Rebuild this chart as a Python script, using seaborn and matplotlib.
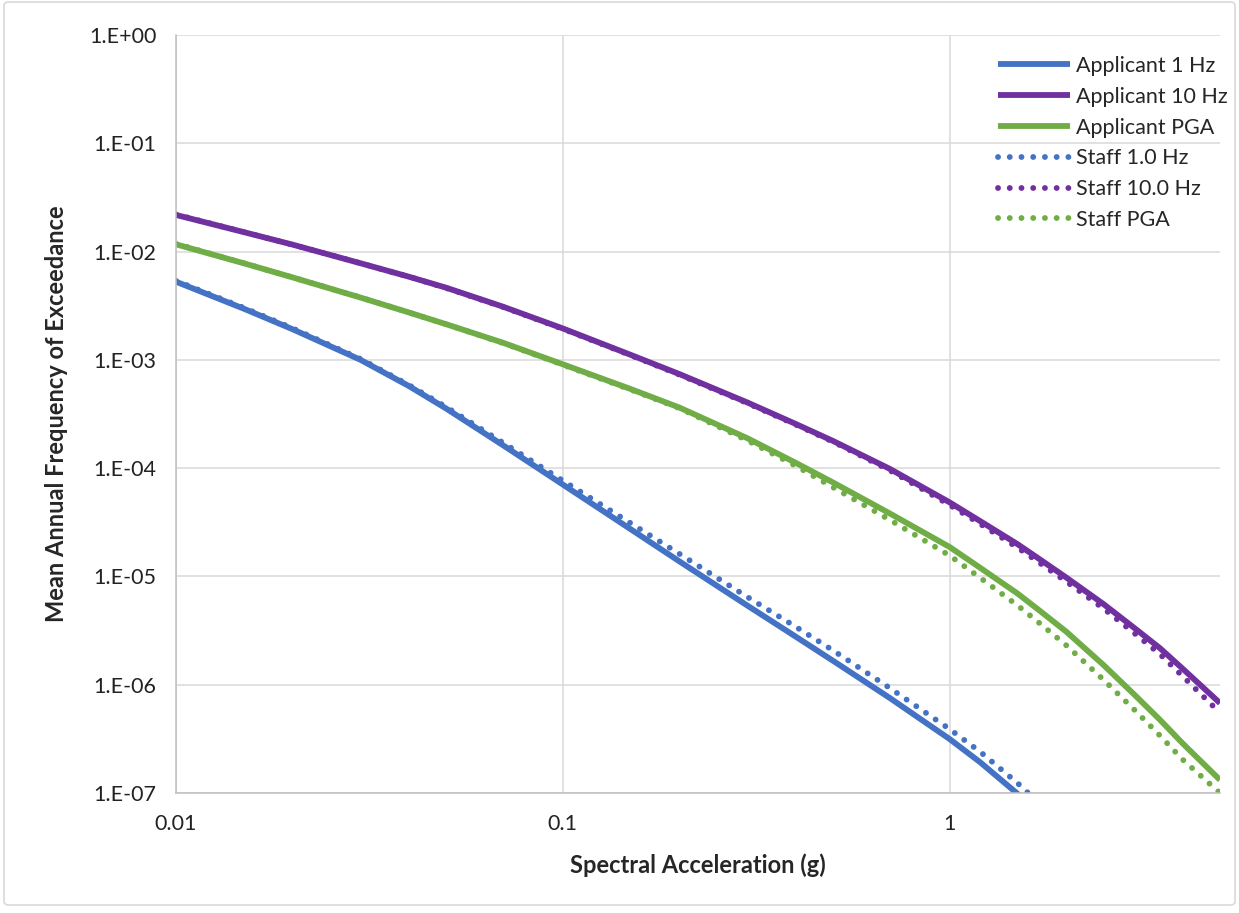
"""Hazard curves: applicant vs staff, log-log."""

import numpy as np
import pandas as pd
import matplotlib
matplotlib.use("Agg")
import matplotlib.pyplot as plt
import matplotlib.ticker as mticker
from matplotlib.patches import FancyBboxPatch
import seaborn as sns

# spectral acceleration (g) where the curves were read
sa = [0.01, 0.015, 0.02, 0.03, 0.04, 0.05, 0.07, 0.1, 0.15, 0.2, 0.3, 0.4,
      0.5, 0.7, 1.0, 1.2, 1.5, 1.7, 2.0, 2.5, 3.0, 3.5, 4.0, 5.0]

app_1hz = [5.27e-3, 2.96e-3, 1.92e-3, 1.00e-3, 5.73e-4, 3.54e-4, 1.63e-4, 7.06e-5,
           2.72e-5, 1.38e-5, 5.38e-6, 2.78e-6, 1.66e-6, 7.55e-7, 3.15e-7, 1.92e-7,
           9.8e-8, 6.6e-8, None, None, None, None, None, None]
app_10hz = [2.18e-2, 1.51e-2, 1.16e-2, 7.8e-3, 5.86e-3, 4.63e-3, 3.10e-3, 1.95e-3,
            1.11e-3, 7.4e-4, 4.04e-4, 2.56e-4, 1.78e-4, 9.86e-5, 4.83e-5, 3.24e-5,
            1.98e-5, 1.46e-5, 9.8e-6, 5.55e-6, 3.35e-6, 2.17e-6, 1.41e-6, 6.76e-7]
app_pga = [1.167e-2, 7.78e-3, 5.78e-3, 3.76e-3, 2.74e-3, 2.13e-3, 1.44e-3, 9.1e-4,
           5.37e-4, 3.63e-4, 1.89e-4, 1.12e-4, 7.36e-5, 3.82e-5, 1.87e-5, 1.20e-5,
           6.93e-6, 4.9e-6, 3.10e-6, 1.52e-6, 8.13e-7, 4.73e-7, 2.88e-7, 1.32e-7]

staff_1hz = [5.37e-3, 3.02e-3, 1.96e-3, 1.02e-3, 5.86e-4, 3.66e-4, 1.72e-4, 7.67e-5,
             3.09e-5, 1.62e-5, 6.46e-6, 3.43e-6, 2.07e-6, 9.33e-7, 3.89e-7, 2.40e-7,
             1.23e-7, 8.1e-8, None, None, None, None, None, None]
staff_10hz = [2.2e-2, 1.51e-2, 1.16e-2, 7.8e-3, 5.86e-3, 4.6e-3, 3.08e-3, 1.93e-3,
              1.1e-3, 7.3e-4, 3.98e-4, 2.52e-4, 1.75e-4, 9.55e-5, 4.57e-5, 3.05e-5,
              1.84e-5, 1.35e-5, 9.0e-6, 5.05e-6, 3.0e-6, 1.91e-6, 1.2e-6, 5.5e-7]
staff_pga = [1.18e-2, 7.8e-3, 5.78e-3, 3.77e-3, 2.74e-3, 2.13e-3, 1.43e-3, 9.0e-4,
             5.3e-4, 3.58e-4, 1.80e-4, 1.05e-4, 6.64e-5, 3.33e-5, 1.56e-5, 9.7e-6,
             5.38e-6, 3.75e-6, 2.32e-6, 1.11e-6, 5.89e-7, 3.38e-7, 2.04e-7, 1.0e-7]

series = [
    ("Applicant 1 Hz", app_1hz, "#4472C4", "-"),
    ("Applicant 10 Hz", app_10hz, "#7030A0", "-"),
    ("Applicant PGA", app_pga, "#70AD47", "-"),
    ("Staff 1.0 Hz", staff_1hz, "#4472C4", (0, (0.01, 2.0))),
    ("Staff 10.0 Hz", staff_10hz, "#7030A0", (0, (0.01, 2.0))),
    ("Staff PGA", staff_pga, "#70AD47", (0, (0.01, 2.0))),
]

sns.set_style("white")
plt.rcParams["font.family"] = ["Lato", "DejaVu Sans"]

fig = plt.figure(figsize=(12.39, 9.13), dpi=100)
ax = fig.add_axes([176 / 1239, 1 - 793 / 913, (1220 - 176) / 1239, (793 - 35) / 913])

for name, vals, color, ls in series:
    df = pd.DataFrame({"sa": sa, "afe": vals}).dropna()
    sns.lineplot(data=df, x="sa", y="afe", ax=ax, color=color, label=name,
                 linewidth=4.2, linestyle=ls, dash_capstyle="round",
                 solid_capstyle="butt", solid_joinstyle="round")

ax.set(xscale="log", yscale="log")
ax.set_xlim(0.01, 5)
ax.set_ylim(1e-7, 1)

ax.yaxis.set_major_locator(mticker.LogLocator(base=10, numticks=12))
ax.yaxis.set_minor_locator(mticker.LogLocator(base=10, subs=np.arange(2, 10), numticks=12))
ax.xaxis.set_major_locator(mticker.LogLocator(base=10, numticks=12))
ax.xaxis.set_minor_locator(mticker.LogLocator(base=10, subs=np.arange(2, 10), numticks=12))
ax.yaxis.set_major_formatter(mticker.FuncFormatter(lambda v, p: f"{v:.0E}".replace("E", ".E")))
ax.xaxis.set_major_formatter(mticker.FuncFormatter(lambda v, p: f"{v:g}"))
ax.xaxis.set_minor_formatter(mticker.NullFormatter())
ax.yaxis.set_minor_formatter(mticker.NullFormatter())

ax.grid(True, which="major", color="#d9d9d9", linewidth=1.1)
ax.grid(False, which="minor")
for side in ["top", "right"]:
    ax.spines[side].set_visible(False)
for side in ["left", "bottom"]:
    ax.spines[side].set_color("#bfbfbf")
    ax.spines[side].set_linewidth(1.1)

ax.tick_params(which="major", direction="out", length=6, width=1.1, color="#bfbfbf",
               labelsize=15.5, labelcolor="#222222", pad=8)
ax.tick_params(which="minor", direction="in", length=5, width=1.0, color="#bfbfbf")
ax.tick_params(axis="x", which="major", pad=9)

ax.set_xlabel("Spectral Acceleration (g)", fontsize=17, fontweight="bold")
ax.set_ylabel("Mean Annual Frequency of Exceedance", fontsize=17, fontweight="bold")
ax.xaxis.set_label_coords(0.5, -(853 - 793) / 758)
ax.yaxis.set_label_coords(-(176 - 68) / 1044, 0.5)

ax.legend(loc="upper left", bbox_to_anchor=(998 / 1239, 1 - 56 / 913),
          bbox_transform=fig.transFigure, frameon=False, fontsize=15.5,
          handlelength=3.35, handletextpad=0.25, labelspacing=0.5,
          borderpad=0, borderaxespad=0)

# chart-area border
fig.patches.append(FancyBboxPatch((4 / 1239, 8 / 913), 1231 / 1239, 903 / 913,
                                  boxstyle="round,pad=0,rounding_size=0.004",
                                  transform=fig.transFigure, fill=False,
                                  edgecolor="#d9d9d9", linewidth=1.2))

fig.savefig("out.png", dpi=100)
plt.close(fig)
